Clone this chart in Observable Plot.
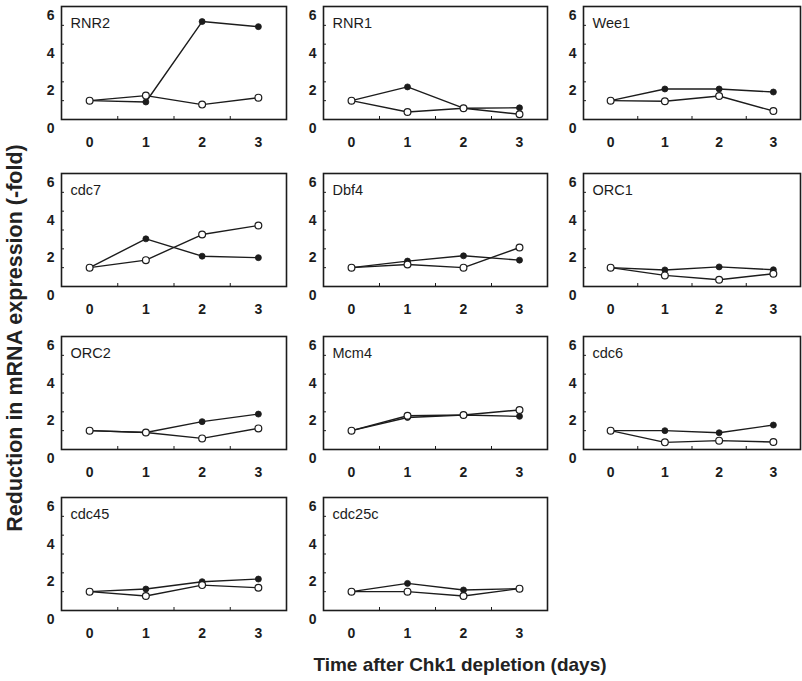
<!DOCTYPE html>
<html>
<head>
<meta charset="utf-8">
<script src="https://cdn.jsdelivr.net/npm/d3@7"></script>
<script src="https://cdn.jsdelivr.net/npm/@observablehq/plot@0.6"></script>
<style>
  html, body { margin: 0; padding: 0; background: #fff; }
  #chart { position: relative; width: 802px; height: 681px; background: #fff; overflow: hidden;
           font-family: "Liberation Sans", Arial, sans-serif; }
  #chart svg { position: absolute; overflow: visible; }
</style>
</head>
<body>
<div id="chart"></div>
<script>
// ---- data ----
const genes = ["RNR2", "RNR1", "Wee1", "cdc7", "Dbf4", "ORC1", "ORC2", "Mcm4", "cdc6", "cdc45", "cdc25c"];
const days = [0, 1, 2, 3];
const yTicks = [0, 2, 4, 6];
// filled-circle series, per gene
const filledSeries = [
  [1, 0.93, 5.2, 4.93],
  [1, 1.73, 0.6, 0.62],
  [1, 1.62, 1.62, 1.46],
  [1, 2.53, 1.61, 1.53],
  [1, 1.35, 1.63, 1.4],
  [1, 0.88, 1.04, 0.89],
  [1, 0.9, 1.48, 1.88],
  [1, 1.7, 1.83, 1.76],
  [1, 1.0, 0.89, 1.3],
  [1, 1.14, 1.53, 1.67],
  [1, 1.44, 1.09, 1.16]
];
// open-circle series, per gene
const openSeries = [
  [1, 1.27, 0.79, 1.16],
  [1, 0.4, 0.6, 0.28],
  [1, 0.97, 1.25, 0.45],
  [1, 1.4, 2.76, 3.24],
  [1, 1.17, 1.0, 2.07],
  [1, 0.59, 0.36, 0.68],
  [1, 0.9, 0.59, 1.12],
  [1, 1.79, 1.83, 2.1],
  [1, 0.38, 0.47, 0.4],
  [1, 0.77, 1.35, 1.21],
  [1, 1.0, 0.77, 1.16]
];
const xTitle = "Time after Chk1 depletion (days)";
const yTitle = "Reduction in mRNA expression (-fold)";

// ---- layout ----
const colLefts = [61, 323, 583];
const colWidths = [225, 224, 217];
const rowTops = [6, 173, 336, 497];
const boxH = 113;
const mL = 40, mT = 8, mR = 4, mB = 40;
const ink = "#1c1c1c";

const chart = document.getElementById("chart");

genes.forEach((gene, i) => {
  const row = Math.floor(i / 3), col = i % 3;
  const boxW = colWidths[col];
  const filled = days.map((d, j) => ({day: d, value: filledSeries[i][j]}));
  const open = days.map((d, j) => ({day: d, value: openSeries[i][j]}));
  const svg = Plot.plot({
    width: boxW + mL + mR,
    height: boxH + mT + mB,
    marginLeft: mL, marginTop: mT, marginRight: mR, marginBottom: mB,
    x: {domain: [-0.5, 3.5]},
    y: {domain: [0, 6]},
    style: {background: "transparent", fontFamily: "Liberation Sans, Arial, sans-serif", color: ink},
    marks: [
      Plot.axisY(yTicks, {tickSize: 0, tickPadding: 7, dy: 9, fontSize: 14, fontWeight: "bold", fill: ink, label: null}),
      Plot.axisX(days, {tickSize: 0, tickPadding: 18, fontSize: 14, fontWeight: "bold", fill: ink, label: null}),
      Plot.ruleY([1, 2, 3, 4, 5], {insetRight: boxW - 3, stroke: ink, strokeWidth: 1}),
      Plot.ruleX([0.5, 1.5, 2.5], {insetTop: boxH - 3, stroke: ink, strokeWidth: 1}),
      Plot.frame({stroke: ink, strokeWidth: 1.6}),
      Plot.line(filled, {x: "day", y: "value", stroke: ink, strokeWidth: 1.4}),
      Plot.line(open, {x: "day", y: "value", stroke: ink, strokeWidth: 1.4}),
      Plot.dot(filled, {x: "day", y: "value", r: 3, fill: ink, stroke: ink, strokeWidth: 0.8}),
      Plot.dot(open, {x: "day", y: "value", r: 3.4, fill: "white", stroke: ink, strokeWidth: 1.2}),
      Plot.text([gene], {text: d => d, frameAnchor: "top-left", textAnchor: "start", lineAnchor: "top",
                         dx: 9, dy: 11, fontSize: 14.5, fill: ink})
    ]
  });
  svg.style.left = (colLefts[col] - mL) + "px";
  svg.style.top = (rowTops[row] - mT) + "px";
  chart.appendChild(svg);
});

// titles as an overlay SVG
const overlay = d3.create("svg")
  .attr("width", 802).attr("height", 681)
  .style("left", "0px").style("top", "0px")
  .style("pointer-events", "none");
overlay.append("text")
  .attr("x", 460).attr("y", 664)
  .attr("text-anchor", "middle").attr("dominant-baseline", "central")
  .attr("font-family", "Liberation Sans, Arial, sans-serif")
  .attr("font-size", 19).attr("font-weight", "bold").attr("fill", "#222")
  .text(xTitle);
overlay.append("text")
  .attr("transform", "translate(15,338) rotate(-90)")
  .attr("text-anchor", "middle").attr("dominant-baseline", "central")
  .attr("font-family", "Liberation Sans, Arial, sans-serif")
  .attr("font-size", 21.5).attr("font-weight", "bold").attr("fill", "#222")
  .text(yTitle);
chart.appendChild(overlay.node());
</script>
</body>
</html>
